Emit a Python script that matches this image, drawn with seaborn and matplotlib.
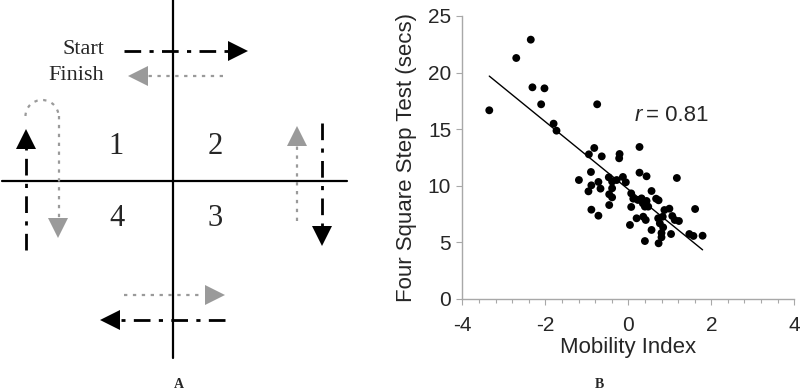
import numpy as np
import pandas as pd
import matplotlib
matplotlib.use("Agg")
import matplotlib.pyplot as plt
from matplotlib.patches import Polygon, Arc
from matplotlib.ticker import MultipleLocator
import seaborn as sns

# ---------------- data ----------------
mobility_index = [
    -3.35, -2.70, -2.35, -2.31, -2.02, -2.10, -1.80, -1.73, -0.75, -1.19,
    -0.95, -0.82, -0.64, -0.90, -0.89, -0.96, -0.72, -0.67, -0.89, -0.72,
    -0.47, -0.39, -0.28, -0.46, -0.39, -0.39, -0.46, -0.21, -0.22, -0.13,
    -0.06, 0.27, 0.27, 0.44, 1.17, 0.07, 0.12, 0.07, 0.04, 0.20,
    0.32, 0.35, 0.40, 0.44, 0.36, 0.42, 0.56, 0.67, 0.73, 0.72,
    0.56, 0.76, 0.83, 0.84, 0.80, 0.80, 0.73, 0.40, 0.87, 0.99,
    1.06, 1.12, 1.22, 1.03, 1.47, 1.57, 1.79, 1.61, 0.23, 0.48,
]
fsst_secs = [
    16.67, 21.29, 22.91, 18.70, 18.61, 17.20, 15.49, 14.87, 17.20, 10.51,
    12.78, 13.34, 12.60, 11.22, 10.04, 9.51, 10.34, 9.75, 7.89, 7.36,
    10.75, 10.37, 10.51, 9.25, 8.98, 9.78, 8.30, 12.81, 12.43, 10.78,
    10.31, 13.43, 11.16, 10.84, 10.69, 9.33, 8.86, 8.13, 6.54, 7.13,
    8.89, 8.45, 8.16, 8.66, 7.27, 6.98, 9.54, 8.86, 8.72, 7.13,
    6.10, 6.68, 7.27, 6.33, 5.83, 5.45, 4.92, 5.12, 7.86, 7.98,
    7.33, 6.98, 6.89, 5.74, 5.74, 5.57, 5.59, 7.95, 8.75, 8.16,
]
x_ticks = [-4, -2, 0, 2, 4]
y_ticks = [0, 5, 10, 15, 20, 25]
r_label = "r"
r_value = "0.81"
x_label = "Mobility Index"
y_label = "Four Square Step Test (secs)"

df = pd.DataFrame({"Mobility Index": mobility_index, "FSST": fsst_secs})

# ---------------- figure ----------------
sns.set_style("white")
plt.rcParams["font.family"] = ["Liberation Sans", "DejaVu Sans"]

W, H = 800, 391
fig = plt.figure(figsize=(W / 100, H / 100), dpi=100)

# ---------- panel B : scatter ----------
axB = fig.add_axes([462.3 / W, 1 - 299 / H, (794.3 - 462.3) / W, (299 - 16) / H])
sns.regplot(data=df, x="Mobility Index", y="FSST", ax=axB, ci=None,
            color="black",
            scatter_kws=dict(s=32, edgecolor="none", alpha=1, zorder=3),
            line_kws=dict(lw=1.0, color="black", zorder=2))
axB.set_xlim(-4, 4)
axB.set_ylim(0, 25)
axB.set_xticks(x_ticks)
axB.set_yticks(y_ticks)
axB.xaxis.set_minor_locator(MultipleLocator(0.4))
axB.set_xticklabels([str(t) for t in x_ticks], fontsize=15)
axB.set_yticklabels([str(t) for t in y_ticks], fontsize=15)
axB.set_xlabel(x_label, fontsize=16, labelpad=2)
axB.set_ylabel(y_label, fontsize=16, labelpad=8)
for s in ["top", "right"]:
    axB.spines[s].set_visible(False)
for s in ["left", "bottom"]:
    axB.spines[s].set_color("#a8a8a8")
    axB.spines[s].set_linewidth(1.0)
axB.tick_params(axis="x", which="major", direction="out", length=4, width=0.8,
                color="#a8a8a8", bottom=True, pad=8)
axB.tick_params(axis="x", which="minor", direction="out", length=3, width=0.8,
                color="#a8a8a8", bottom=True)
axB.tick_params(axis="y", which="major", direction="out", length=4, width=0.8,
                color="#a8a8a8", left=True, pad=4)
axB.text(0.16, 16.25, r_label, fontsize=16, style="italic", va="center", ha="left")
axB.text(0.42, 16.25, "= " + r_value, fontsize=16, va="center", ha="left")

fig.text(599 / W, 1 - 384 / H, "B", fontsize=10, fontweight="bold",
         family=["Liberation Serif", "DejaVu Serif"], ha="center", va="center")

# ---------- panel A : diagram ----------
axA = fig.add_axes([0, 0, 360 / W, 1])
axA.set_xlim(0, 360)
axA.set_ylim(H, 0)
axA.axis("off")

grey = "#9a9a9a"
serif = ["Liberation Serif", "DejaVu Serif"]

axA.plot([173, 173], [0, 358], color="black", lw=1.6)
axA.plot([2, 347], [181, 181], color="black", lw=1.6)

def tri(ax, tip, direction, color, L=20, Wd=20):
    x, y = tip
    if direction == "right":
        pts = [(x, y), (x - L, y - Wd / 2), (x - L, y + Wd / 2)]
    elif direction == "left":
        pts = [(x, y), (x + L, y - Wd / 2), (x + L, y + Wd / 2)]
    elif direction == "up":
        pts = [(x, y), (x - Wd / 2, y + L), (x + Wd / 2, y + L)]
    else:
        pts = [(x, y), (x - Wd / 2, y - L), (x + Wd / 2, y - L)]
    ax.add_patch(Polygon(pts, closed=True, facecolor=color, edgecolor="none"))

dashdot = dict(color="black", lw=2.0, dashes=(6, 3, 1.5, 3))
dotted = dict(color=grey, lw=1.6, dashes=(1.5, 2.5))

# Start / Finish
axA.text(104, 50, "Start", fontsize=16, family=serif, ha="right", va="center")
axA.text(104, 75, "Finish", fontsize=16, family=serif, ha="right", va="center")
axA.plot([124, 229], [51, 51], **dashdot)
tri(axA, (248, 51), "right", "black")
axA.plot([223, 147], [76, 76], **dotted)
tri(axA, (128, 76), "left", grey)

# square numbers
for txt, (x, y) in zip(["1", "2", "4", "3"],
                       [(116, 146), (215, 146), (117, 218), (215, 218)]):
    axA.text(x, y, txt, fontsize=22, family=serif, ha="center", va="center")

# left side: up (black) then loop and down (grey)
axA.plot([26, 26], [250, 148], **dashdot)
tri(axA, (26, 129), "up", "black")
axA.add_patch(Arc((42, 116), 33, 32, theta1=180, theta2=360, color=grey,
                  lw=1.6, linestyle=(0, (1.5, 2.5))))
axA.plot([58.5, 58.5], [116, 220], **dotted)
tri(axA, (58, 238), "down", grey)

# right side: up (grey), down (black)
axA.plot([297, 297], [221, 145], **dotted)
tri(axA, (297, 126), "up", grey)
axA.plot([322, 322], [123, 227], **dashdot)
tri(axA, (322, 246), "down", "black")

# bottom
axA.plot([124, 204], [295, 295], **dotted)
tri(axA, (225, 295), "right", grey)
axA.plot([225, 121], [320, 320], **dashdot)
tri(axA, (100, 320), "left", "black")

fig.text(179 / W, 1 - 385 / H, "A", fontsize=10, fontweight="bold",
         family=serif, ha="center", va="center")

fig.savefig("out.png", dpi=100, facecolor="white")
